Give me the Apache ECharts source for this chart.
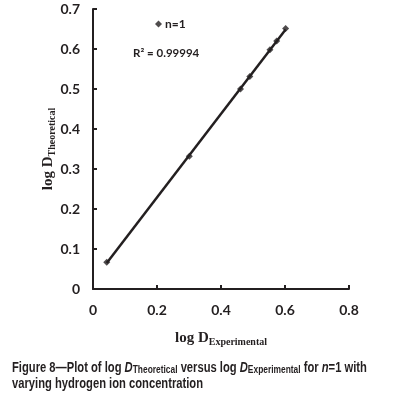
<!DOCTYPE html>
<html><head><meta charset="utf-8">
<script src="https://cdn.jsdelivr.net/npm/echarts@6/dist/echarts.min.js"></script>
<style>html,body{margin:0;padding:0;background:#fff}#c{width:395px;height:402px}</style>
</head><body><div id="c"></div>
<script>
var seriesName = 'n=1';
var xValues = [0.043, 0.301, 0.461, 0.490, 0.553, 0.574, 0.602];
var yValues = [0.067, 0.332, 0.500, 0.531, 0.598, 0.620, 0.651];
var rSquaredText = 'R² = 0.99994';
var xTicks = [0, 0.2, 0.4, 0.6, 0.8];
var yTicks = [0, 0.1, 0.2, 0.3, 0.4, 0.5, 0.6, 0.7];

var pts = xValues.map(function(x,i){return [x,yValues[i]];});
// least-squares trendline from the data
var n = xValues.length, sx=0, sy=0, sxx=0, sxy=0;
for (var i=0;i<n;i++){sx+=xValues[i];sy+=yValues[i];sxx+=xValues[i]*xValues[i];sxy+=xValues[i]*yValues[i];}
var slope=(n*sxy-sx*sy)/(n*sxx-sx*sx), icpt=(sy-slope*sx)/n;
var xmin=Math.min.apply(null,xValues), xmax=Math.max.apply(null,xValues);
var trend=[[xmin,icpt+slope*xmin],[xmax,icpt+slope*xmax]];

var tickFont = {fontFamily:'Lato', fontWeight:'bold', fontSize:14, color:'#231f20'};
var capFont = 'Liberation Sans';
var chart = echarts.init(document.getElementById('c'), null, {renderer:'canvas'});
chart.setOption({
  animation:false,
  grid:{left:93, right:46, top:9, bottom:113, containLabel:false},
  legend:{
    data:[{name:seriesName, icon:'diamond'}],
    left:150, top:13, itemWidth:7, itemHeight:7, itemGap:4,
    textStyle:{fontFamily:'Lato', fontWeight:'bold', fontSize:12, color:'#231f20', padding:[0,0,0,-2]}
  },
  xAxis:{
    type:'value', min:0, max:0.8, interval:0.2,
    axisLine:{lineStyle:{color:'#231f20', width:2}},
    axisTick:{inside:true, length:4, lineStyle:{color:'#231f20', width:2}},
    splitLine:{show:false},
    axisLabel:Object.assign({margin:14, formatter:function(v){return String(Math.round(v*10)/10);}}, tickFont),
    name:'{a|log D}{b|Experimental}', nameLocation:'middle', nameGap:40, nameMoveOverlap:false,
    nameTextStyle:{rich:{
      a:{fontFamily:'Liberation Serif', fontWeight:'bold', fontSize:15, color:'#231f20'},
      b:{fontFamily:'Liberation Serif', fontWeight:'bold', fontSize:10, color:'#231f20', verticalAlign:'bottom', padding:[8,0,0,0]}
    }}
  },
  yAxis:{
    type:'value', min:0, max:0.7, interval:0.1,
    axisLine:{lineStyle:{color:'#231f20', width:2}},
    axisTick:{inside:true, length:4, lineStyle:{color:'#231f20', width:2}},
    splitLine:{show:false},
    axisLabel:Object.assign({margin:13, formatter:function(v){return String(Math.round(v*10)/10);}}, tickFont),
    name:'{a|log D}{b|Theoretical}', nameLocation:'middle', nameGap:36, nameRotate:90, nameMoveOverlap:false,
    nameTextStyle:{rich:{
      a:{fontFamily:'Liberation Serif', fontWeight:'bold', fontSize:15, color:'#231f20'},
      b:{fontFamily:'Liberation Serif', fontWeight:'bold', fontSize:10, color:'#231f20', verticalAlign:'bottom', padding:[8,0,0,0]}
    }}
  },
  series:[
    {name:'trend', type:'line', data:trend, symbol:'none', lineStyle:{color:'#231f20', width:2.5}, silent:true, z:2},
    {name:seriesName, type:'scatter', data:pts, symbol:'diamond', symbolSize:7, itemStyle:{color:'#231f20'}, z:3}
  ],
  graphic:[
    {type:'text', left:133, top:47, style:{text:rSquaredText, fontFamily:'Lato', fontWeight:'bold', fontSize:11.5, fill:'#231f20'}},
    {type:'text', x:12, y:360, scaleX:0.8, style:{
      rich:{
        t:{fontFamily:capFont, fontSize:14, fill:'#231f20', fontWeight:'bold'},
        i:{fontFamily:capFont, fontSize:14, fill:'#231f20', fontWeight:'bold', fontStyle:'italic'},
        s:{fontFamily:capFont, fontSize:10.5, fill:'#231f20', fontWeight:'bold', padding:[4,0,0,0], verticalAlign:'bottom'}
      },
      text:'{t|Figure 8—Plot of log }{i|D}{s|Theoretical}{t| versus log }{i|D}{s|Experimental}{t| for }{i|n}{t|=1 with}\n{t|varying hydrogen ion concentration}',
      lineHeight:16
    }}
  ]
});
</script></body></html>
